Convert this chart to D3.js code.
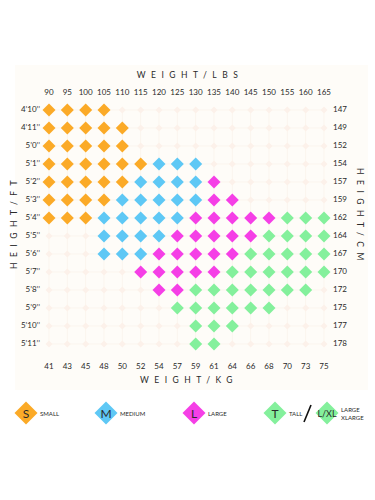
<!DOCTYPE html>
<html>
<head>
<meta charset="utf-8">
<script src="https://cdn.jsdelivr.net/npm/d3@7"></script>
<style>
  html, body { margin: 0; padding: 0; background: #fff; }
  svg text { font-family: "Lato", "Open Sans", sans-serif; fill: #2a2a2a; }
</style>
</head>
<body>
<svg id="chart" width="375" height="500"></svg>
<script>
/*** DATA ***/
let lbsTicks = [90, 95, 100, 105, 110, 115, 120, 125, 130, 135, 140, 145, 150, 155, 160, 165];
let kgTicks  = [41, 43, 45, 48, 50, 52, 54, 57, 59, 61, 64, 66, 68, 70, 73, 75];
let ftRows   = ["4’10’’", "4’11’’", "5’0’’", "5’1’’", "5’2’’", "5’3’’", "5’4’’",
                "5’5’’", "5’6’’", "5’7’’", "5’8’’", "5’9’’", "5’10’’", "5’11’’"];
let cmRows   = [147, 149, 152, 154, 157, 159, 162, 164, 167, 170, 172, 175, 177, 178];

// one code per weight column, "." = no size
let sizeGrid = [
  "SSSS............",
  "SSSSS...........",
  "SSSSS...........",
  "SSSSSSMMM.......",
  "SSSSSMMMML......",
  "SSSSMMMMMLL.....",
  "SSSMMMMMLLLLLTTT",
  "...MMMMLLLLLTTTT",
  "...MMMLLLLLTTTTT",
  ".....LLLLLTTTTTT",
  "......LLTTTTTTT.",
  ".......TTTTTT...",
  "........TTT.....",
  "........TT......"
];

let legendItems = [
  {code: "S", letter: "S", label: ["SMALL"]},
  {code: "M", letter: "M", label: ["MEDIUM"]},
  {code: "L", letter: "L", label: ["LARGE"]},
  {code: "T", letter: "T", label: ["TALL"]},
  {code: "T", letter: "L/XL", label: ["LARGE", "XLARGE"]}
];

let colors = {S: "#fbaa27", M: "#5ec8f5", L: "#f53fe6", T: "#84f09c"};

/*** SETUP ***/
let svg = d3.select("#chart");

let x = d3.scalePoint().domain(lbsTicks).range([49, 324]),
    y = d3.scalePoint().domain(ftRows).range([110, 344]);

function diamond(r) {
  return "M0," + (-r) + "L" + r + ",0L0," + r + "L" + (-r) + ",0Z";
}

// cream panel (very faint)
svg.append("rect")
  .attr("x", 15).attr("y", 65)
  .attr("width", 353).attr("height", 325)
  .attr("fill", "#fefcf8");

// faint grid lines
svg.selectAll(".vline").data(lbsTicks).join("line")
  .attr("x1", d => x(d)).attr("x2", d => x(d))
  .attr("y1", y.range()[0]).attr("y2", y.range()[1])
  .attr("stroke", "#fbf5ee").attr("stroke-width", 1);
svg.selectAll(".hline").data(ftRows).join("line")
  .attr("x1", x.range()[0]).attr("x2", x.range()[1])
  .attr("y1", d => y(d)).attr("y2", d => y(d))
  .attr("stroke", "#fbf5ee").attr("stroke-width", 1);

// cells
let cells = [];
sizeGrid.forEach(function(row, i) {
  row.split("").forEach(function(c, j) {
    cells.push({ft: ftRows[i], lbs: lbsTicks[j], code: c});
  });
});

svg.selectAll(".cell").data(cells).join("path")
  .attr("class", "cell")
  .attr("transform", d => "translate(" + x(d.lbs) + "," + y(d.ft) + ")")
  .attr("d", d => d.code === "." ? diamond(3.5) : diamond(6.5))
  .attr("fill", d => d.code === "." ? "#fcf1ea" : colors[d.code]);

/*** AXES TEXT ***/
svg.selectAll(".lbs").data(lbsTicks).join("text")
  .attr("x", d => x(d)).attr("y", 93)
  .attr("text-anchor", "middle").attr("dominant-baseline", "middle")
  .attr("font-size", 8).text(d => d);

svg.selectAll(".kg").data(kgTicks).join("text")
  .attr("x", (d, i) => x(lbsTicks[i])).attr("y", 367)
  .attr("text-anchor", "middle").attr("dominant-baseline", "middle")
  .attr("font-size", 8).text(d => d);

svg.selectAll(".ft").data(ftRows).join("text")
  .attr("x", 40).attr("y", d => y(d))
  .attr("text-anchor", "end").attr("dominant-baseline", "middle")
  .attr("font-size", 8).text(d => d);

svg.selectAll(".cm").data(cmRows).join("text")
  .attr("x", 333).attr("y", (d, i) => y(ftRows[i]))
  .attr("dominant-baseline", "middle")
  .attr("font-size", 8).text(d => d);

function spaced(sel) {
  return sel.attr("font-size", 8.5).attr("letter-spacing", 5.5)
    .attr("text-anchor", "middle").attr("dominant-baseline", "middle");
}

spaced(svg.append("text").attr("x", 190).attr("y", 76)).text("WEIGHT/LBS");
spaced(svg.append("text").attr("x", 189).attr("y", 381)).text("WEIGHT/KG");
spaced(svg.append("text")
  .attr("transform", "translate(15,222) rotate(-90)")).text("HEIGHT/FT");
spaced(svg.append("text")
  .attr("transform", "translate(359,217) rotate(90)")).text("HEIGHT/CM");

/*** LEGEND ***/
let legendX = [26, 106, 194, 275, 327],
    legendY = 413;

let leg = svg.selectAll(".leg").data(legendItems).join("g")
  .attr("transform", (d, i) => "translate(" + legendX[i] + "," + legendY + ")");

leg.append("path").attr("d", diamond(11.5)).attr("fill", d => colors[d.code]);
leg.append("text")
  .attr("text-anchor", "middle").attr("dominant-baseline", "central")
  .attr("font-size", d => d.letter.length > 1 ? 9 : 12)
  .text(d => d.letter);
leg.each(function(d) {
  let g = d3.select(this);
  d.label.forEach(function(t, k) {
    g.append("text")
      .attr("x", 14)
      .attr("y", (k - (d.label.length - 1) / 2) * 8)
      .attr("dominant-baseline", "central")
      .attr("font-size", 6).text(t);
  });
});

// slash between TALL and L/XL
svg.append("line")
  .attr("x1", 304).attr("y1", 422).attr("x2", 311).attr("y2", 405)
  .attr("stroke", "#111").attr("stroke-width", 1.6);
</script>
</body>
</html>
